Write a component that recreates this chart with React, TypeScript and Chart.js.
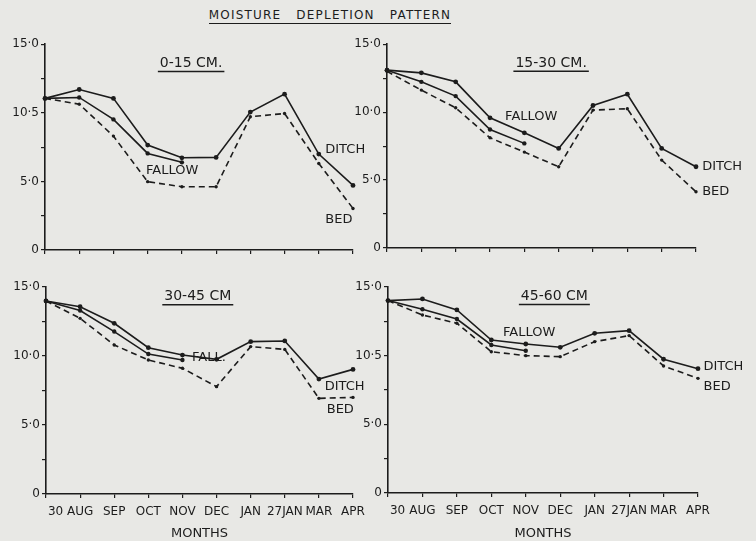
import React, { useEffect, useRef } from "react";
import { Chart, registerables } from "chart.js";
Chart.register(...registerables);

const INK = "#1c1c1c";
const PAPER = "#e8e8e5";
const FONT = "'DejaVu Sans', sans-serif";

const months = ["30", "AUG", "SEP", "OCT", "NOV", "DEC", "JAN", "27JAN", "MAR", "APR"];

// 0-15 CM
const ditch0_15 = [11.05, 11.7, 11.05, 7.65, 6.72, 6.75, 10.05, 11.36, 6.99, 4.71];
const fallow0_15 = [11.05, 11.12, 9.52, 7.04, 6.39];
const bed0_15 = [11.05, 10.63, 8.3, 4.98, 4.61, 4.61, 9.71, 9.95, 6.31, 3.03];
const yLabels0_15 = ["0", "5·0", "10·5", "15·0"];

// 15-30 CM
const ditch15_30 = [13.09, 12.89, 12.23, 9.58, 8.48, 7.33, 10.49, 11.32, 7.33, 5.98];
const fallow15_30 = [13.09, 12.23, 11.18, 8.72, 7.7];
const bed15_30 = [13.0, 11.62, 10.32, 8.11, 7.06, 5.98, 10.15, 10.25, 6.47, 4.14];
const yLabels15_30 = ["0", "5·0", "10·0", "15·0"];

// 30-45 CM
const ditch30_45 = [13.99, 13.57, 12.37, 10.6, 10.07, 9.76, 11.04, 11.09, 8.33, 9.03];
const fallow30_45 = [13.99, 13.29, 11.77, 10.14, 9.71];
const bed30_45 = [13.99, 12.73, 10.8, 9.71, 9.11, 7.78, 10.68, 10.48, 6.93, 7.0];
const yLabels30_45 = ["0", "5·0", "10·0", "15·0"];

// 45-60 CM
const ditch45_60 = [14.01, 14.13, 13.33, 11.14, 10.85, 10.61, 11.63, 11.82, 9.74, 9.05];
const fallow45_60 = [14.01, 13.38, 12.67, 10.78, 10.36];
const bed45_60 = [14.01, 12.96, 12.36, 10.29, 10.0, 9.93, 11.02, 11.46, 9.25, 8.35];
const yLabels45_60 = ["0", "5·0", "10·5", "15·0"];

type Note = { text: string; x: number; y: number; title?: boolean };

const notes0_15: Note[] = [
  { text: "0-15 CM.", x: 4.27, y: 13.6, title: true },
  { text: "FALLOW", x: 2.95, y: 5.75 },
  { text: "DITCH", x: 8.19, y: 7.28 },
  { text: "BED", x: 8.19, y: 2.18 },
];
const notes15_30: Note[] = [
  { text: "15-30 CM.", x: 4.78, y: 13.6, title: true },
  { text: "FALLOW", x: 3.44, y: 9.7 },
  { text: "DITCH", x: 9.18, y: 5.96 },
  { text: "BED", x: 9.18, y: 4.12 },
];
const notes30_45: Note[] = [
  { text: "30-45 CM", x: 4.45, y: 14.3, title: true },
  { text: "FALL.", x: 4.28, y: 9.86 },
  { text: "DITCH", x: 8.17, y: 7.75 },
  { text: "BED", x: 8.23, y: 6.09 },
];
const notes45_60: Note[] = [
  { text: "45-60 CM", x: 4.83, y: 14.3, title: true },
  { text: "FALLOW", x: 3.34, y: 11.65 },
  { text: "DITCH", x: 9.16, y: 9.18 },
  { text: "BED", x: 9.16, y: 7.72 },
];

function makeNotesPlugin(notes: Note[]) {
  return {
    id: "notes",
    afterDatasetsDraw(chart: any) {
      const ctx = chart.ctx;
      const xs = chart.scales.x;
      const ys = chart.scales.y;
      ctx.save();
      ctx.fillStyle = INK;
      ctx.strokeStyle = INK;
      ctx.textBaseline = "middle";
      for (const n of notes) {
        const px = xs.getPixelForValue(n.x);
        const py = ys.getPixelForValue(n.y);
        if (n.title) {
          ctx.font = `14px ${FONT}`;
          ctx.textAlign = "center";
          ctx.fillText(n.text, px, py);
          const w = ctx.measureText(n.text).width;
          ctx.lineWidth = 1.5;
          ctx.beginPath();
          ctx.moveTo(px - w / 2 - 2, py + 8);
          ctx.lineTo(px + w / 2 + 2, py + 8);
          ctx.stroke();
        } else {
          ctx.font = `13px ${FONT}`;
          ctx.textAlign = "left";
          ctx.fillText(n.text, px, py);
        }
      }
      ctx.restore();
    },
  };
}

type PanelProps = {
  left: number;
  top: number;
  width: number;
  height: number;
  padTop: number;
  padRight: number;
  yWidth: number;
  xHeight: number;
  showX: boolean;
  ditch: number[];
  fallow: number[];
  bed: number[];
  yLabels: string[];
  notes: Note[];
};

function Panel(p: PanelProps) {
  const ref = useRef<HTMLCanvasElement | null>(null);
  useEffect(() => {
    if (!ref.current) return;
    const line = (data: number[], dashed: boolean, r: number) => ({
      data,
      borderColor: INK,
      borderWidth: 1.6,
      borderDash: dashed ? [6, 4] : [],
      pointRadius: r,
      pointBackgroundColor: INK,
      pointBorderColor: INK,
      pointBorderWidth: 0,
      tension: 0,
      fill: false,
    });
    const chart = new Chart(ref.current, {
      type: "line",
      data: {
        labels: months,
        datasets: [line(p.ditch, false, 2.4), line(p.fallow, false, 2.2), line(p.bed, true, 1.7)],
      },
      options: {
        responsive: false,
        animation: false,
        layout: { padding: { top: p.padTop, right: p.padRight, left: 0, bottom: 0 } },
        plugins: { legend: { display: false }, tooltip: { enabled: false } },
        scales: {
          x: {
            type: "category",
            offset: false,
            grid: { display: true, drawOnChartArea: false, drawTicks: true, tickLength: 4, color: INK, lineWidth: 1.2 },
            border: { display: true, color: INK, width: 1.6 },
            ticks: {
              display: p.showX,
              autoSkip: false,
              maxRotation: 0,
              padding: 7,
              color: INK,
              font: { family: FONT, size: 12 },
              callback: (_v: any, i: number) => (i === 0 ? "     " + months[i] : months[i]),
            },
            title: {
              display: p.showX,
              text: "MONTHS",
              color: INK,
              font: { family: FONT, size: 13 },
              padding: { top: 0, bottom: 0 },
            },
            afterFit: (s: any) => {
              s.height = p.xHeight;
            },
          },
          y: {
            min: 0,
            max: 15,
            grid: { display: true, drawOnChartArea: false, drawTicks: true, tickLength: 4, color: INK, lineWidth: 1.2 },
            border: { display: true, color: INK, width: 1.6 },
            ticks: {
              stepSize: 2.5,
              padding: 2,
              color: INK,
              font: { family: FONT, size: 12 },
              callback: (v: any) => {
                const n = Number(v);
                return n % 5 === 0 ? p.yLabels[n / 5] : "";
              },
            },
            afterFit: (s: any) => {
              s.width = p.yWidth;
            },
          },
        },
      } as any,
      plugins: [makeNotesPlugin(p.notes)],
    });
    return () => chart.destroy();
  }, []);
  return (
    <canvas
      ref={ref}
      width={p.width}
      height={p.height}
      style={{ position: "absolute", left: p.left, top: p.top, width: p.width, height: p.height }}
    />
  );
}

export default function App() {
  return (
    <div
      style={{
        position: "absolute",
        left: 0,
        top: 0,
        width: 756,
        height: 541,
        background: PAPER,
        overflow: "hidden",
        fontFamily: FONT,
      }}
    >
      <div
        style={{
          position: "absolute",
          left: 0,
          width: 660,
          top: 8,
          textAlign: "center",
          color: INK,
          fontSize: 12,
          letterSpacing: "1.2px",
          wordSpacing: "10px",
        }}
      >
        <span style={{ borderBottom: `1.5px solid ${INK}`, paddingBottom: 1 }}>MOISTURE DEPLETION PATTERN</span>
      </div>
      <Panel left={0} top={35} width={380} height={235} padTop={9} padRight={27} yWidth={45} xHeight={20} showX={false}
        ditch={ditch0_15} fallow={fallow0_15} bed={bed0_15} yLabels={yLabels0_15} notes={notes0_15} />
      <Panel left={340} top={35} width={416} height={235} padTop={9} padRight={60} yWidth={47} xHeight={22} showX={false}
        ditch={ditch15_30} fallow={fallow15_30} bed={bed15_30} yLabels={yLabels15_30} notes={notes15_30} />
      <Panel left={0} top={270} width={380} height={271} padTop={17} padRight={27} yWidth={46} xHeight={47} showX={true}
        ditch={ditch30_45} fallow={fallow30_45} bed={bed30_45} yLabels={yLabels30_45} notes={notes30_45} />
      <Panel left={340} top={270} width={416} height={271} padTop={17} padRight={58} yWidth={48} xHeight={48} showX={true}
        ditch={ditch45_60} fallow={fallow45_60} bed={bed45_60} yLabels={yLabels45_60} notes={notes45_60} />
    </div>
  );
}
